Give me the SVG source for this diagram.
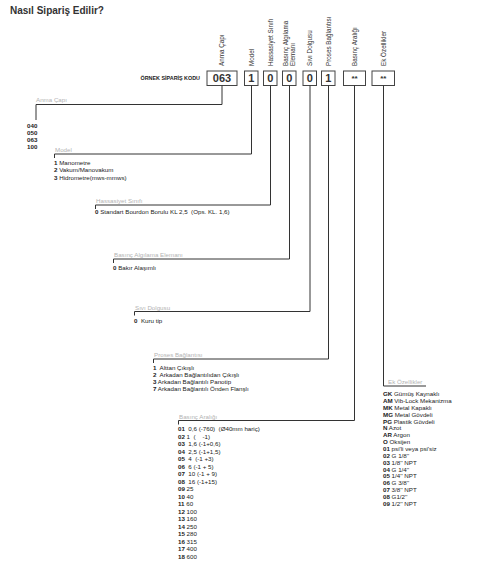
<svg xmlns="http://www.w3.org/2000/svg" width="477" height="566" viewBox="0 0 477 566">
<style>
text{font-family:"Liberation Sans",Arial,sans-serif;}
.title{font-size:10px;font-weight:bold;fill:#333;}
.code{font-size:5.4px;font-weight:bold;fill:#222;}
.box{fill:#fff;stroke:#444;stroke-width:1;}
.bt{font-size:11px;font-weight:bold;fill:#333;text-anchor:middle;}
.bs{font-size:8px;font-weight:bold;fill:#333;text-anchor:middle;}
.vl{font-size:6.3px;fill:#333;}
.seg{font-size:6.2px;fill:#b3b3b3;}
.it{font-size:6.2px;fill:#222;}
.it tspan.b{font-weight:bold;}
.cn{fill:none;stroke:#333;stroke-width:1;}
</style>
<text class="title" x="10" y="13.5">Nasıl Sipariş Edilir?</text>
<text class="code" x="200" y="80" text-anchor="end">ÖRNEK SİPARİŞ KODU</text>

<g id="boxes">
<g id="box-anma"><rect class="box" x="207" y="71" width="30" height="14.5"/><text class="bt" x="222" y="82.2">063</text><text class="vl" transform="translate(224.2,66) rotate(-90)">Anma Çapı</text></g>
<g id="box-model"><rect class="box" x="244.5" y="71" width="13.5" height="14.5"/><text class="bt" x="251.25" y="82.2">1</text><text class="vl" transform="translate(253.7,66) rotate(-90)">Model</text></g>
<g id="box-hassasiyet"><rect class="box" x="263.5" y="71" width="13.5" height="14.5"/><text class="bt" x="270.25" y="82.2">0</text><text class="vl" transform="translate(272.7,66) rotate(-90)">Hassasiyet Sınıfı</text></g>
<g id="box-eleman"><rect class="box" x="282.5" y="71" width="13.5" height="14.5"/><text class="bt" x="289.25" y="82.2">0</text><text class="vl" transform="translate(287.5,66) rotate(-90)">Basınç Algılama</text><text class="vl" transform="translate(294.5,66) rotate(-90)">Elemanı</text></g>
<g id="box-sivi"><rect class="box" x="303" y="71" width="13.5" height="14.5"/><text class="bt" x="309.75" y="82.2">0</text><text class="vl" transform="translate(312.2,66) rotate(-90)">Sıvı Dolgusu</text></g>
<g id="box-proses"><rect class="box" x="321.5" y="71" width="13.5" height="14.5"/><text class="bt" x="328.25" y="82.2">1</text><text class="vl" transform="translate(330.7,66) rotate(-90)">Proses Bağlantısı</text></g>
<g id="box-aralik"><rect class="box" x="343.5" y="71" width="22" height="14.5"/><text class="bs" x="354.5" y="81">**</text><text class="vl" transform="translate(356.7,66) rotate(-90)">Basınç Aralığı</text></g>
<g id="box-ek"><rect class="box" x="372" y="71" width="22.5" height="14.5"/><text class="bs" x="383.25" y="81">**</text><text class="vl" transform="translate(385.7,66) rotate(-90)">Ek Özellikler</text></g>
</g>

<g id="connectors">
<path class="cn" d="M222,85.5 V104.5 H36 V120"/>
<path class="cn" d="M251.5,85.5 V154 H54.5 V158"/>
<path class="cn" d="M270.5,85.5 V205 H95.5 V209"/>
<path class="cn" d="M289.5,85.5 V259 H113.5 V263"/>
<path class="cn" d="M310,85.5 V311.5 H134.5 V315.5"/>
<path class="cn" d="M328.5,85.5 V359 H153.5 V363"/>
<path class="cn" d="M354.5,85.5 V420.5 H178.5 V424.5"/>
<path class="cn" d="M383.5,85.5 V386 H426"/>
</g>

<g id="anma">
<text class="seg" x="36" y="102">Anma Çapı</text>
<text class="it" x="27"><tspan class="b" x="27" y="128.2">040</tspan><tspan class="b" x="27" y="135.2">050</tspan><tspan class="b" x="27" y="142.2">063</tspan><tspan class="b" x="27" y="149.2">100</tspan></text>
</g>
<g id="model">
<text class="seg" x="55" y="152">Model</text>
<text class="it" x="54" y="164.7"><tspan class="b">1</tspan> Manometre</text>
<text class="it" x="54" y="172.2"><tspan class="b">2</tspan> Vakum/Manovakum</text>
<text class="it" x="54" y="179.7"><tspan class="b">3</tspan> Hidrometre(mws-mmws)</text>
</g>
<g id="hassasiyet">
<text class="seg" x="96" y="203">Hassasiyet Sınıfı</text>
<text class="it" x="95" y="214.2" xml:space="preserve"><tspan class="b">0</tspan> Standart Bourdon Borulu KL 2,5  (Ops. KL. 1,6)</text>
</g>
<g id="eleman">
<text class="seg" x="114" y="257">Basınç Algılama Elemanı</text>
<text class="it" x="113" y="270"><tspan class="b">0</tspan> Bakır Alaşımlı</text>
</g>
<g id="sivi">
<text class="seg" x="135" y="309.5">Sıvı Dolgusu</text>
<text class="it" x="134" y="323" xml:space="preserve"><tspan class="b">0</tspan>  Kuru tip</text>
</g>
<g id="proses">
<text class="seg" x="154" y="357">Proses Bağlantısı</text>
<text class="it" x="153" y="370" xml:space="preserve"><tspan class="b">1</tspan>  Alttan Çıkışlı</text>
<text class="it" x="153" y="377" xml:space="preserve"><tspan class="b">2</tspan>  Arkadan Bağlantılıdan Çıkışlı</text>
<text class="it" x="153" y="384"><tspan class="b">3</tspan> Arkadan Bağlantılı Panotip</text>
<text class="it" x="153" y="391"><tspan class="b">7</tspan> Arkadan Bağlantılı Önden Flanşlı</text>
</g>
<g id="aralik">
<text class="seg" x="179" y="418.5">Basınç Aralığı</text>
<text class="it" x="178" y="431.2" xml:space="preserve"><tspan class="b">01</tspan>  0,6 (-760)  (Ø40mm hariç)</text>
<text class="it" x="178" y="438.7" xml:space="preserve"><tspan class="b">02</tspan> 1  (    -1)</text>
<text class="it" x="178" y="446.2" xml:space="preserve"><tspan class="b">03</tspan>  1,6 (-1+0,6)</text>
<text class="it" x="178" y="453.7" xml:space="preserve"><tspan class="b">04</tspan>  2,5 (-1+1,5)</text>
<text class="it" x="178" y="461.2" xml:space="preserve"><tspan class="b">05</tspan>  4  (-1 +3)</text>
<text class="it" x="178" y="468.7" xml:space="preserve"><tspan class="b">06</tspan>  6 (-1 + 5)</text>
<text class="it" x="178" y="476.2" xml:space="preserve"><tspan class="b">07</tspan>  10 (-1 + 9)</text>
<text class="it" x="178" y="483.7" xml:space="preserve"><tspan class="b">08</tspan>  16 (-1+15)</text>
<text class="it" x="178" y="491.2"><tspan class="b">09</tspan> 25</text>
<text class="it" x="178" y="498.7"><tspan class="b">10</tspan> 40</text>
<text class="it" x="178" y="506.2"><tspan class="b">11</tspan> 60</text>
<text class="it" x="178" y="513.7"><tspan class="b">12</tspan> 100</text>
<text class="it" x="178" y="521.2"><tspan class="b">13</tspan> 160</text>
<text class="it" x="178" y="528.7"><tspan class="b">14</tspan> 250</text>
<text class="it" x="178" y="536.2"><tspan class="b">15</tspan> 280</text>
<text class="it" x="178" y="543.7"><tspan class="b">16</tspan> 315</text>
<text class="it" x="178" y="551.2"><tspan class="b">17</tspan> 400</text>
<text class="it" x="178" y="558.7"><tspan class="b">18</tspan> 600</text>
</g>
<g id="ek">
<text class="seg" x="388" y="384">Ek Özellikler</text>
<text class="it" x="383" y="396.2"><tspan class="b">GK</tspan> Gümüş Kaynaklı</text>
<text class="it" x="383" y="403.05"><tspan class="b">AM</tspan> Vib-Lock Mekanizma</text>
<text class="it" x="383" y="409.9"><tspan class="b">MK</tspan> Metal Kapaklı</text>
<text class="it" x="383" y="416.75"><tspan class="b">MG</tspan> Metal Gövdeli</text>
<text class="it" x="383" y="423.6"><tspan class="b">PG</tspan> Plastik Gövdeli</text>
<text class="it" x="383" y="430.45"><tspan class="b">N</tspan> Azot</text>
<text class="it" x="383" y="437.3"><tspan class="b">AR</tspan> Argon</text>
<text class="it" x="383" y="444.15"><tspan class="b">O</tspan> Oksijen</text>
<text class="it" x="383" y="451"><tspan class="b">01</tspan> psi'li veya psi'siz</text>
<text class="it" x="383" y="457.85"><tspan class="b">02</tspan> G 1/8''</text>
<text class="it" x="383" y="464.7"><tspan class="b">03</tspan> 1/8'' NPT</text>
<text class="it" x="383" y="471.55"><tspan class="b">04</tspan> G 1/4''</text>
<text class="it" x="383" y="478.4"><tspan class="b">05</tspan> 1/4'' NPT</text>
<text class="it" x="383" y="485.25"><tspan class="b">06</tspan> G 3/8''</text>
<text class="it" x="383" y="492.1"><tspan class="b">07</tspan> 3/8'' NPT</text>
<text class="it" x="383" y="498.95"><tspan class="b">08</tspan> G1/2''</text>
<text class="it" x="383" y="505.8"><tspan class="b">09</tspan> 1/2'' NPT</text>
</g>
</svg>
